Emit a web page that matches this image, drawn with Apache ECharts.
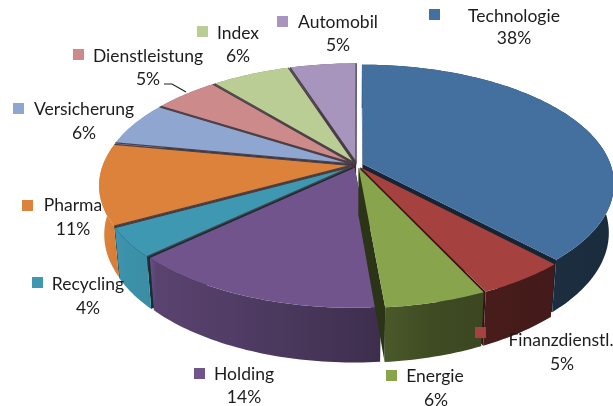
<!DOCTYPE html>
<html>
<head>
<meta charset="utf-8">
<style>html,body{margin:0;padding:0;background:#fff}#main{width:613px;height:406px}</style>
<script src="https://cdn.jsdelivr.net/npm/echarts@6/dist/echarts.min.js"></script>
</head>
<body>
<div id="main"></div>
<script>
var categories = ['Technologie','Finanzdienstl.','Energie','Holding','Recycling','Pharma','Versicherung','Dienstleistung','Index','Automobil'];
var shares = [38,5,5.6,14.4,4,11,6,5,6,5];
var colors = ['#44709f','#a5423f','#88a44c','#71548c','#3f98b2','#dc823a','#8ea6d0','#cc8b8a','#b9cd94','#a895bd'];

// label layout: [name centre x, name y, percent centre x, percent y, marker x, marker y]
var labelLayout = [
  [514,16,514,38,429,9],
  [561,340,562,364,475,327],
  [435,376,436,400,386,370],
  [244,374,244,397,194,368],
  [88,284,88,308,32,277],
  [73,205,73,229,22,200],
  [84,109,84,133,13,103],
  [148,56,148,79,73,49],
  [238,33,238,56,197,26],
  [338,22,338,45,277,16]
];

var cx = 357, cy = 165, R = 248, K = 116, persp = 0.165, depth = 47, explode = 0.025, shrink = 0.98;
var total = shares.reduce(function(a,b){return a+b},0);

// disk coords to screen, perspective makes the front of the pie larger
function project(u,v,bottom){
  var s = 1/(1-persp*v);
  var x = R*u*s, y = K*v*s;
  if(bottom) return [cx+x*shrink, cy+y*shrink+depth*s+1];
  return [cx+x, cy+y];
}
function shade(hex,f){
  var n = parseInt(hex.slice(1),16);
  var r = n>>16, g = (n>>8)&255, b = n&255;
  return 'rgb('+Math.round(r*f)+','+Math.round(g*f)+','+Math.round(b*f)+')';
}

var starts = [], acc = 0;
shares.forEach(function(v){ starts.push(acc); acc += v; });

function renderSlice(params, api){
  var i = api.value(0);
  var a0 = starts[i]/total*Math.PI*2, a1 = (starts[i]+api.value(1))/total*Math.PI*2, mid = (a0+a1)/2;
  var ox = explode*Math.sin(mid), oy = -explode*Math.cos(mid);
  var color = colors[i];
  var steps = Math.ceil((a1-a0)/0.02), top = [], bot = [];
  for(var k=0;k<=steps;k++){
    var a = a0+(a1-a0)*k/steps;
    var u = Math.sin(a)+ox, v = -Math.cos(a)+oy;
    top.push(project(u,v,false));
    bot.push(project(u,v,true));
  }
  var hubT = project(ox,oy,false), hubB = project(ox,oy,true);
  var wallFill = {
    type:'linear', global:true, x:100, y:0, x2:610, y2:0,
    colorStops:[
      {offset:0,color:shade(color,1)},
      {offset:0.1,color:shade(color,0.92)},
      {offset:0.11,color:shade(color,0.8)},
      {offset:0.39,color:shade(color,0.65)},
      {offset:0.55,color:shade(color,0.55)},
      {offset:0.65,color:shade(color,0.46)},
      {offset:1,color:shade(color,0.38)}
    ]
  };
  var z = Math.round(-Math.cos(mid)*100+200)*10;
  var seam = shade(color,0.32);
  var children = [
    {type:'polygon',z2:z,shape:{points:[hubT,top[0],bot[0],hubB]},style:{fill:seam}},
    {type:'polygon',z2:z,shape:{points:[hubT,top[steps],bot[steps],hubB]},style:{fill:seam}},
    {type:'polygon',z2:z+1,shape:{points:top.concat(bot.slice().reverse())},style:{fill:wallFill}},
    {type:'polygon',z2:z+2,shape:{points:[hubT].concat(top)},style:{fill:color}}
  ];
  // only the slices at the back show a dark seam on the top face
  if(mid>Math.PI*1.2){
    children.push({type:'polyline',z2:z+3,shape:{points:[top[0],hubT,top[steps]]},style:{stroke:'#4d4148',lineWidth:1.3,fill:null}});
  }
  return {type:'group',children:children};
}

var sliceData = shares.map(function(v,i){ return [i,v]; });

var font = 'Lato, "Open Sans", sans-serif';
var labels = [];
categories.forEach(function(name,i){
  var p = labelLayout[i];
  labels.push({type:'rect',z:10,shape:{x:p[4],y:p[5],width:11,height:11},style:{fill:colors[i]}});
  labels.push({type:'text',z:10,style:{x:p[0],y:p[1],text:name,fill:'#1c1c1c',font:'17.5px '+font,textAlign:'center',textVerticalAlign:'middle'}});
  labels.push({type:'text',z:10,style:{x:p[2],y:p[3],text:Math.round(shares[i])+'%',fill:'#1c1c1c',font:'17.5px '+font,textAlign:'center',textVerticalAlign:'middle'}});
});
labels.push({type:'polyline',z:10,shape:{points:[[164,84],[172,84],[186,92]]},style:{stroke:'#222',lineWidth:1.2,fill:null}});

var myChart = echarts.init(document.getElementById('main'));
myChart.setOption({
  backgroundColor:'#fff',
  animation:false,
  graphic:labels,
  series:[{
    type:'custom',
    coordinateSystem:'none',
    silent:true,
    renderItem:renderSlice,
    data:sliceData
  }]
});
</script>
</body>
</html>
